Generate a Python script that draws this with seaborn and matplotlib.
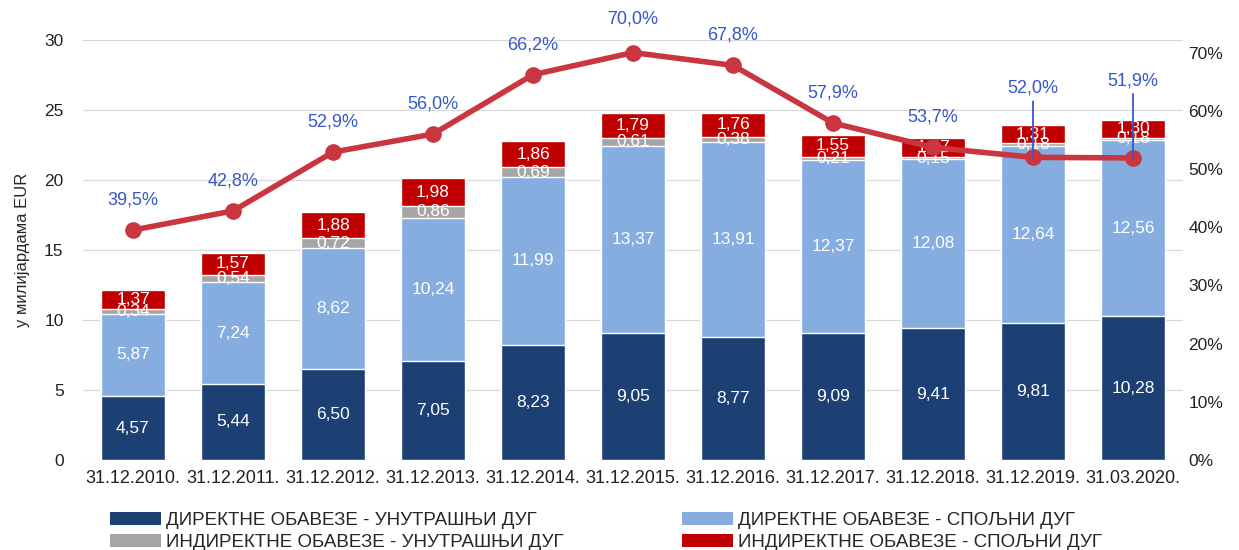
import numpy as np
import pandas as pd
import matplotlib
matplotlib.use("Agg")
import matplotlib.pyplot as plt
import seaborn as sns
from matplotlib.patches import Patch

dates = ["31.12.2010.", "31.12.2011.", "31.12.2012.", "31.12.2013.", "31.12.2014.",
         "31.12.2015.", "31.12.2016.", "31.12.2017.", "31.12.2018.", "31.12.2019.",
         "31.03.2020."]
direct_domestic = [4.57, 5.44, 6.50, 7.05, 8.23, 9.05, 8.77, 9.09, 9.41, 9.81, 10.28]
direct_external = [5.87, 7.24, 8.62, 10.24, 11.99, 13.37, 13.91, 12.37, 12.08, 12.64, 12.56]
indirect_domestic = [0.34, 0.54, 0.72, 0.86, 0.69, 0.61, 0.38, 0.21, 0.15, 0.18, 0.18]
indirect_external = [1.37, 1.57, 1.88, 1.98, 1.86, 1.79, 1.76, 1.55, 1.37, 1.31, 1.30]
debt_to_gdp = [39.5, 42.8, 52.9, 56.0, 66.2, 70.0, 67.8, 57.9, 53.7, 52.0, 51.9]

series_names = ["ДИРЕКТНЕ ОБАВЕЗЕ - УНУТРАШЊИ ДУГ", "ДИРЕКТНЕ ОБАВЕЗЕ - СПОЉНИ ДУГ",
                "ИНДИРЕКТНЕ ОБАВЕЗЕ - УНУТРАШЊИ ДУГ", "ИНДИРЕКТНЕ ОБАВЕЗЕ - СПОЉНИ ДУГ"]
colors = ["#1C3F74", "#86ADE0", "#A5A5A5", "#C00000"]
line_color = "#C9363F"
pct_color = "#3558C8"

sns.set_theme(style="white")
plt.rcParams["font.family"] = ["Liberation Sans", "DejaVu Sans"]

layers = [direct_domestic, direct_external, indirect_domestic, indirect_external]
cum = np.cumsum(np.array(layers), axis=0)
bottoms = np.vstack([np.zeros(len(dates)), cum[:-1]])

fig = plt.figure(figsize=(12.39, 5.5), dpi=100)
ax = fig.add_axes([83 / 1239, 1 - 460 / 550, 1100 / 1239, 420 / 550])

# stacked bars: draw cumulative totals from the top layer down
for i in range(len(layers) - 1, -1, -1):
    df = pd.DataFrame({"date": dates, "value": cum[i]})
    sns.barplot(data=df, x="date", y="value", color=colors[i], saturation=1,
                width=0.64, ax=ax, zorder=2)

ax.set_ylim(0, 30)
ax.set_xlim(-0.5, len(dates) - 0.5)
ax.set_yticks(range(0, 31, 5))
ax.yaxis.grid(True, color="#D9D9D9", linewidth=0.9, zorder=0)
ax.set_axisbelow(True)
for s in ax.spines.values():
    s.set_visible(False)
ax.tick_params(axis="both", length=0, labelsize=12.5, colors="#222222")
ax.tick_params(axis="x", labelsize=13, pad=7)
ax.tick_params(axis="y", pad=14)
ax.set_xlabel("")
ax.set_ylabel("у милијардама EUR", fontsize=12, labelpad=10)

for i, vals in enumerate(layers):
    for j, v in enumerate(vals):
        yc = bottoms[i][j] + v / 2
        ax.text(j, yc, f"{v:.2f}".replace(".", ","), ha="center", va="center",
                color="white", fontsize=12.5, zorder=5)

ax2 = ax.twinx()
sns.lineplot(x=np.arange(len(dates)), y=np.array(debt_to_gdp) / 100, ax=ax2,
             color=line_color, linewidth=4, marker="o", markersize=12,
             markeredgewidth=0, zorder=6)
ax2.set_ylim(0, 0.7216)
ax2.set_yticks(np.arange(0, 0.71, 0.1))
ax2.set_yticklabels([f"{int(round(t * 100))}%" for t in np.arange(0, 0.71, 0.1)])
ax2.tick_params(axis="y", length=0, labelsize=12.5, colors="#222222", pad=4)
for s in ax2.spines.values():
    s.set_visible(False)
ax2.grid(False)
ax2.set_ylabel("")

n = len(dates)
for j, p in enumerate(debt_to_gdp):
    lab = f"{p:.1f}%".replace(".", ",")
    if j >= n - 2:
        off = 77 if j == n - 1 else 69
        # leader line from the label down to the marker
        ax2.annotate("", xy=(j, p / 100), xytext=(0, off - 13), textcoords="offset pixels",
                     arrowprops=dict(arrowstyle="-", color=pct_color, lw=1.3,
                                     shrinkA=0, shrinkB=0), zorder=9)
    else:
        off = 34 if j == 5 else 30
    ax2.annotate(lab, xy=(j, p / 100), xytext=(0, off), textcoords="offset pixels",
                 ha="center", va="center", color=pct_color, fontsize=13)

handles = [Patch(facecolor=c, edgecolor="none") for c in colors]
order = [0, 2, 1, 3]
fig.legend([handles[k] for k in order], [series_names[k] for k in order],
           loc="upper left", bbox_to_anchor=(110 / 1239, 1 - 512 / 550),
           ncol=2, frameon=False, fontsize=13.5, handlelength=2.7, handleheight=0.65,
           handletextpad=0.3, columnspacing=6.3, labelspacing=0.28,
           borderpad=0, borderaxespad=0)

fig.savefig("out.png", dpi=100)
